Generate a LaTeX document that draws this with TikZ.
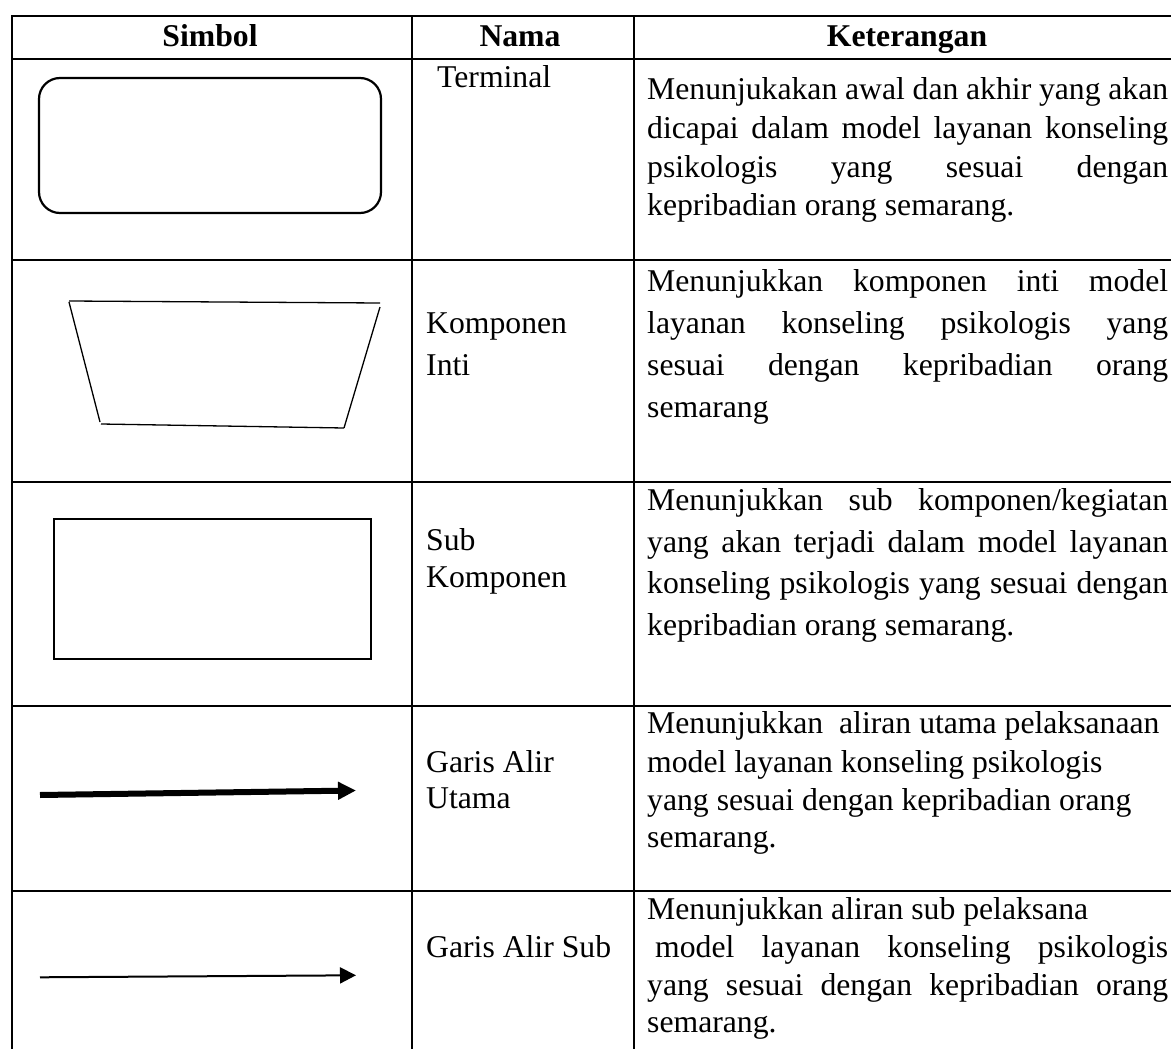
\documentclass[tikz,border=0pt]{standalone}
\usepackage{fontspec}
\setmainfont{Liberation Serif}
\usetikzlibrary{arrows.meta}
\newcommand\jl[1]{\makebox[521pt][s]{#1}}
\begin{document}
\begin{tikzpicture}[x=1pt,y=-1pt,
  grid/.style={line width=2.8pt, line cap=rect},
  txt/.style={anchor=base west, inner sep=0pt, font=\fontsize{31.7}{38}\selectfont},
  head/.style={anchor=base, inner sep=0pt, font=\fontsize{31.7}{38}\selectfont\bfseries},
  terminalshape/.style={draw, line width=2.2pt, rounded corners=21pt},
  boxshape/.style={draw, line width=2.2pt},
  trapline/.style={line width=1.3pt},
  mainflow/.style={line width=6pt, -{Triangle[length=18pt,width=17pt]}},
  subflow/.style={line width=2pt, -{Triangle[length=16pt,width=16pt]}}]
\useasboundingbox (0,0) rectangle (1171,1049);

% table grid
\draw[grid] (12,16) -- (1171,16);
\draw[grid] (12,59) -- (1171,59);
\draw[grid] (12,260) -- (1171,260);
\draw[grid] (12,482) -- (1171,482);
\draw[grid] (12,706) -- (1171,706);
\draw[grid] (12,891) -- (1171,891);
\draw[grid] (12,16) -- (12,1049);
\draw[grid] (412,16) -- (412,1049);
\draw[grid] (634,16) -- (634,1049);

% header
\node[head] (h1) at (210,47) {Simbol};
\node[head] (h2) at (520,47) {Nama};
\node[head] (h3) at (907,47) {Keterangan};

% symbols
\draw[terminalshape] (39,78) rectangle (381,213);
\coordinate (t1) at (69,301);
\coordinate (t2) at (380,303);
\coordinate (t3) at (380,307);
\coordinate (t4) at (344,428);
\coordinate (t5) at (101,424);
\coordinate (t6) at (100,422);
\coordinate (t7) at (69,302);
\draw[trapline] (t1) -- (t2);
\draw[trapline] (t3) -- (t4);
\draw[trapline] (t5) -- (t4);
\draw[trapline] (t7) -- (t6);
\draw[boxshape] (54,519) rectangle (371,659);

\coordinate (ma) at (40,795);
\coordinate (mb) at (356,790.5);
\draw[mainflow] (ma) -- (mb);
\coordinate (sa) at (40,977.3);
\coordinate (sb) at (356,975.3);
\draw[subflow] (sa) -- (sb);

% names
\node[txt] (n1) at (437,88) {Terminal};
\node[txt] (n2a) at (426,333) {Komponen};
\node[txt] (n2b) at (426,375) {Inti};
\node[txt] (n3a) at (426,550) {Sub};
\node[txt] (n3b) at (426,587) {Komponen};
\node[txt] (n4a) at (426,772) {Garis Alir};
\node[txt] (n4b) at (426,808) {Utama};
\node[txt] (n5) at (426,957) {Garis Alir Sub};

% descriptions
\node[txt] (k1a) at (647,99.5) {\jl{Menunjukakan awal dan akhir yang akan}};
\node[txt] (k1b) at (647,138.5) {\jl{dicapai dalam model layanan konseling}};
\node[txt] (k1c) at (647,177) {\jl{psikologis yang sesuai dengan}};
\node[txt] (k1d) at (647,215.5) {kepribadian orang semarang.};

\node[txt] (k2a) at (647,291.7) {\jl{Menunjukkan komponen inti model}};
\node[txt] (k2b) at (647,333) {\jl{layanan konseling psikologis yang}};
\node[txt] (k2c) at (647,375) {\jl{sesuai dengan kepribadian orang}};
\node[txt] (k2d) at (647,417) {semarang};

\node[txt] (k3a) at (647,510) {\jl{Menunjukkan sub komponen/kegiatan}};
\node[txt] (k3b) at (647,552) {\jl{yang akan terjadi dalam model layanan}};
\node[txt] (k3c) at (647,593) {\jl{konseling psikologis yang sesuai dengan}};
\node[txt] (k3d) at (647,635) {kepribadian orang semarang.};

\node[txt] (k4a) at (647,733) {Menunjukkan\ \ aliran utama pelaksanaan};
\node[txt] (k4b) at (647,772) {model layanan konseling psikologis};
\node[txt] (k4c) at (647,810) {yang sesuai dengan kepribadian orang};
\node[txt] (k4d) at (647,847) {semarang.};

\node[txt] (k5a) at (647,919) {Menunjukkan aliran sub pelaksana};
\node[txt] (k5b) at (647,957) {\jl{\hspace*{8pt}model layanan konseling psikologis}};
\node[txt] (k5c) at (647,995) {\jl{yang sesuai dengan kepribadian orang}};
\node[txt] (k5d) at (647,1032) {semarang.};
\end{tikzpicture}
\end{document}
